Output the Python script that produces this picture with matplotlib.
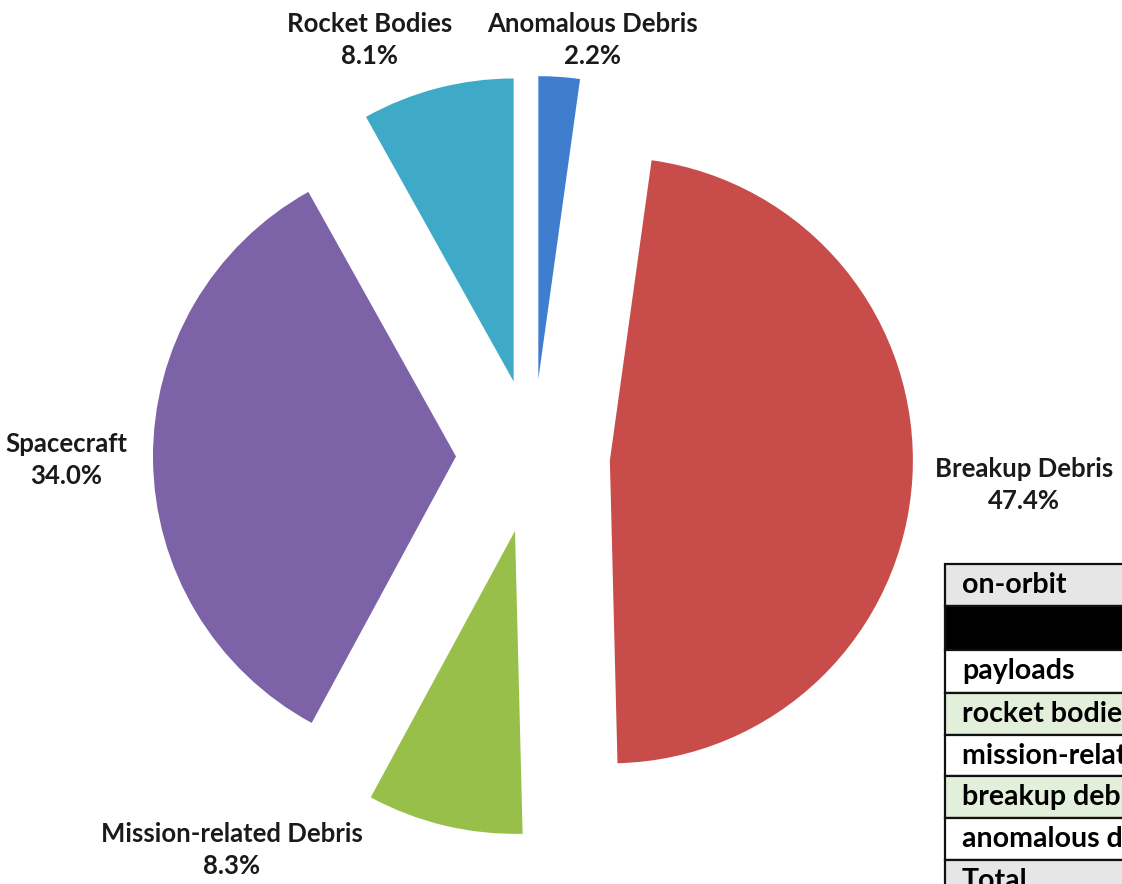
import matplotlib
matplotlib.use("Agg")
import matplotlib.pyplot as plt
from matplotlib.patches import Rectangle

# Share of catalogued on-orbit objects by type (percent)
categories = ["Anomalous Debris", "Breakup Debris", "Mission-related Debris",
              "Spacecraft", "Rocket Bodies"]
shares = [2.2, 47.4, 8.3, 34.0, 8.1]

# Row labels of the summary table
table_rows = ["on-orbit", "", "payloads", "rocket bodies", "mission-related debris",
              "breakup debris", "anomalous debris", "Total"]

# ---- styling -------------------------------------------------------------
W, H = 1122, 884
colors = ["#3F7ECF", "#C84D4A", "#99BF4B", "#7C62A6", "#3FA9C8"]
pie_center = (533, H - 456)
pie_radius = 303
explode_px = [77] * len(shares)
label_pos = [(593, H - 40), (1024, H - 485), (232, H - 850),
             (66, H - 460), (370, H - 40)]
label_font = ["Lato", "DejaVu Sans"]

row_edges = [564, 606, 650, 693, 735, 776, 818, 860, 902]
row_fill = ["#E7E6E6", "#000000", "#FFFFFF", "#E2EFDA", "#FFFFFF",
            "#E2EFDA", "#FFFFFF", "#E7E6E6"]
table_left = 945

fig = plt.figure(figsize=(W / 100, H / 100), dpi=100)
ax = fig.add_axes([0, 0, 1, 1])

ax.pie(shares, explode=explode_px, colors=colors, startangle=90,
       counterclock=False, center=pie_center, radius=pie_radius,
       wedgeprops=dict(linewidth=0))

for name, val, (lx, ly) in zip(categories, shares, label_pos):
    ax.text(lx, ly, f"{name}\n{val:.1f}%", ha="center", va="center",
            fontsize=18.5, fontweight="bold", family=label_font,
            color="#1A1A1A", linespacing=1.4)

# Summary table, running off the right edge
for i, (txt, fc) in enumerate(zip(table_rows, row_fill)):
    top, bot = row_edges[i], row_edges[i + 1]
    ax.add_patch(Rectangle((table_left, H - bot), 400, bot - top,
                           facecolor=fc, edgecolor="#111111", linewidth=1.6,
                           clip_on=True))
    if txt:
        ax.text(table_left + 17, H - (top + bot) / 2, txt, ha="left",
                va="center", fontsize=20.5, fontweight="bold",
                family=label_font, color="#000000", clip_on=True)

ax.set_xlim(0, W)
ax.set_ylim(0, H)
ax.set_aspect("equal")
ax.axis("off")

fig.savefig("out.png", dpi=100, facecolor="white")
